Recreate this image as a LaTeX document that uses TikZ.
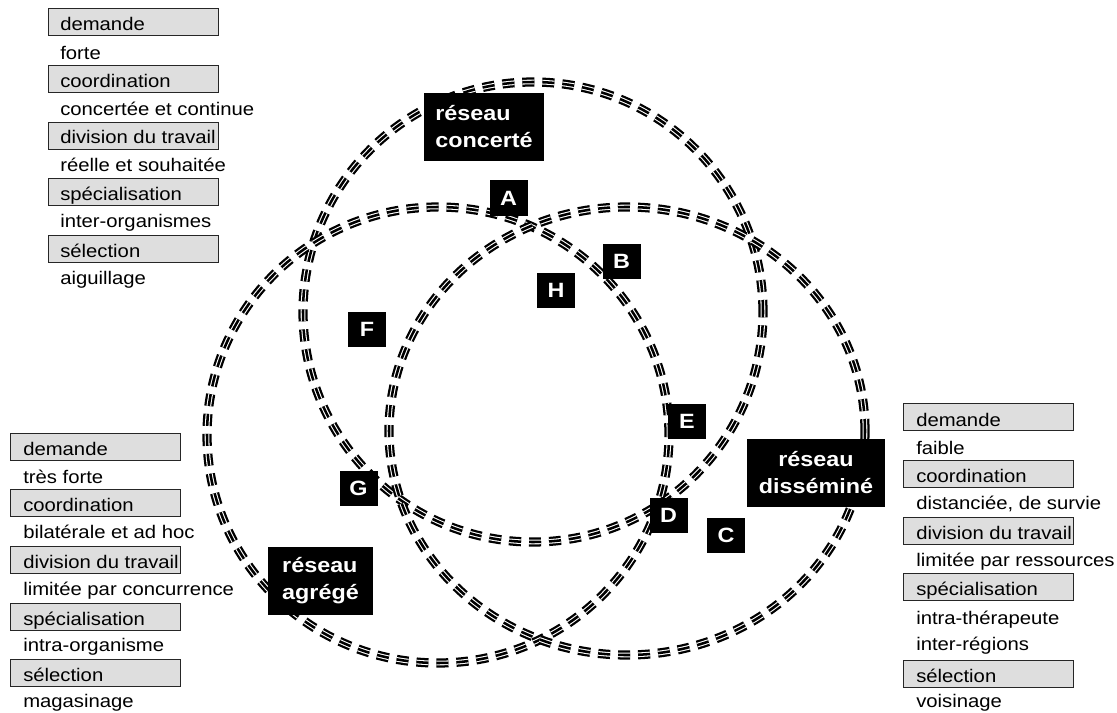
\documentclass[tikz,border=0pt]{standalone}
\usepackage{fontspec}
\setmainfont[FakeStretch=1.11,BoldFeatures={FakeStretch=1.13}]{Liberation Sans}
\begin{document}
\begin{tikzpicture}[x=0.75pt,y=-0.75pt,
  legbox/.style={draw=black!85, line width=0.6pt, fill=black!13, minimum width=127.5pt, minimum height=20.25pt, inner sep=0pt, anchor=north west},
  legtxt/.style={anchor=base west, inner sep=0pt, font=\fontsize{13.7}{19.5}\selectfont, align=left},
  tag/.style={fill=black, text=white, font=\bfseries\fontsize{15.5}{20.25}\selectfont, inner sep=0pt, minimum width=28.5pt, minimum height=26.25pt},
  bigtag/.style={tag, minimum height=51pt},
  ring/.style={draw=black, line width=6.9pt, dash pattern=on 9pt off 6pt,
    postaction={draw=white, line width=3.5pt, dash pattern=on 9pt off 6pt},
    postaction={draw=black, line width=1.9pt, dash pattern=on 9pt off 6pt}}
]
\useasboundingbox (0,0) rectangle (1117,713);

% ---- top-left legend
\node[legbox] (t1) at (48,8) {};
\node[legtxt] (t1l) at (60,31) {demande};
\node[legtxt] (t1v) at (60,60) {forte};
\node[legbox] (t2) at (48,65) {};
\node[legtxt] (t2l) at (60,88) {coordination};
\node[legtxt] (t2v) at (60,116) {concertée et continue};
\node[legbox] (t3) at (48,122) {};
\node[legtxt] (t3l) at (60,144) {division du travail};
\node[legtxt] (t3v) at (60,172) {réelle et souhaitée};
\node[legbox] (t4) at (48,178) {};
\node[legtxt] (t4l) at (60,200) {spécialisation};
\node[legtxt] (t4v) at (60,228) {inter-organismes};
\node[legbox] (t5) at (48,235) {};
\node[legtxt] (t5l) at (60,257) {sélection};
\node[legtxt] (t5v) at (60,284) {aiguillage};

% ---- left legend
\node[legbox] (l1) at (10,433) {};
\node[legtxt] (l1l) at (23,455) {demande};
\node[legtxt] (l1v) at (23,483) {très forte};
\node[legbox] (l2) at (10,489) {};
\node[legtxt] (l2l) at (23,511) {coordination};
\node[legtxt] (l2v) at (23,538) {bilatérale et ad hoc};
\node[legbox] (l3) at (10,546) {};
\node[legtxt] (l3l) at (23,568) {division du travail};
\node[legtxt] (l3v) at (23,595) {limitée par concurrence};
\node[legbox] (l4) at (10,603) {};
\node[legtxt] (l4l) at (23,625) {spécialisation};
\node[legtxt] (l4v) at (23,651) {intra-organisme};
\node[legbox] (l5) at (10,659) {};
\node[legtxt] (l5l) at (23,681) {sélection};
\node[legtxt] (l5v) at (23,707) {magasinage};

% ---- right legend
\node[legbox] (r1) at (903,403) {};
\node[legtxt] (r1l) at (916,426) {demande};
\node[legtxt] (r1v) at (916,454) {faible};
\node[legbox] (r2) at (903,460) {};
\node[legtxt] (r2l) at (916,482) {coordination};
\node[legtxt] (r2v) at (916,509) {distanciée, de survie};
\node[legbox] (r3) at (903,517) {};
\node[legtxt] (r3l) at (916,539) {division du travail};
\node[legtxt] (r3v) at (916,566) {limitée par ressources};
\node[legbox] (r4) at (903,573) {};
\node[legtxt] (r4l) at (916,595) {spécialisation};
\node[legtxt] (r4v) at (916,624) {intra-thérapeute};
\node[legtxt] (r4w) at (916,650) {inter-régions};
\node[legbox] (r5) at (903,660) {};
\node[legtxt] (r5l) at (916,682) {sélection};
\node[legtxt] (r5v) at (916,707) {voisinage};

% ---- the three networks
\path[ring] (533,312) ellipse [x radius=230*0.75pt, y radius=230*0.75pt];
\path[ring] (438,435) ellipse [x radius=231*0.75pt, y radius=228*0.75pt];
\path[ring] (627,431) ellipse [x radius=238*0.75pt, y radius=224*0.75pt];

% ---- labels
\node[bigtag, minimum width=90pt, align=left] (conc) at (484,127) {réseau\\concerté};
\node[bigtag, minimum width=103.5pt, align=center] (diss) at (816,473) {réseau\\disséminé};
\node[bigtag, minimum width=78.75pt, align=left] (agr) at (320.5,581) {réseau\\agrégé};
\node[tag] (A) at (508.5,198) {A};
\node[tag] (B) at (621.5,261.5) {B};
\node[tag] (H) at (556,290) {H};
\node[tag] (F) at (367,329) {F};
\node[tag] (E) at (687,421.5) {E};
\node[tag] (G) at (358.5,488) {G};
\node[tag] (D) at (668.5,515.5) {D};
\node[tag] (C) at (726,535) {C};
\end{tikzpicture}
\end{document}
